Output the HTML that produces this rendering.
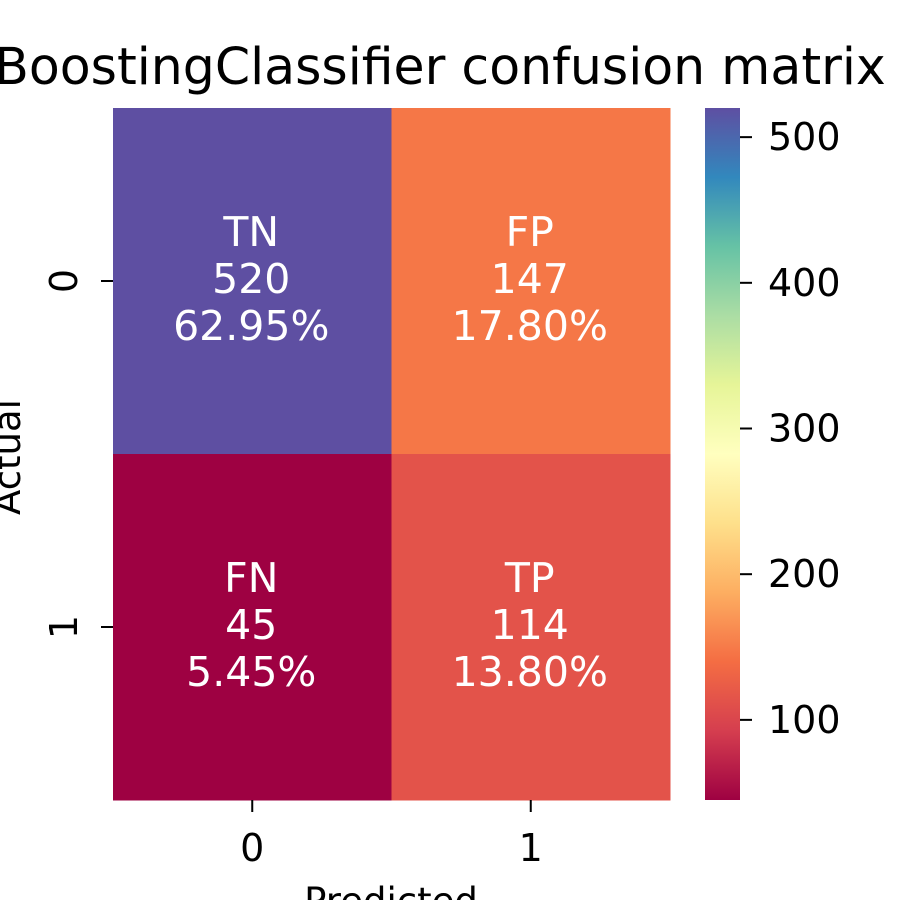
<!DOCTYPE html>
<html><head><meta charset="utf-8"><style>
body{margin:0;background:#fff;width:900px;height:900px;overflow:hidden}
svg text{font-family:"DejaVu Sans","Liberation Sans",sans-serif}
</style></head><body>
<svg id="chart" width="900" height="900">
<text x="440" y="84" font-size="50.5" text-anchor="middle">BoostingClassifier confusion matrix</text>
<g id="cells"></g>
<g id="axes"></g>
<defs><linearGradient id="spec" x1="0" y1="1" x2="0" y2="0"></linearGradient></defs>
<rect x="705" y="108" width="35" height="692" fill="url(#spec)"/>
<g id="cbticks"></g>
<text transform="translate(20,457) rotate(-90)" font-size="37" text-anchor="middle">Actual</text>
<text x="391" y="914" font-size="37" text-anchor="middle">Predicted</text>
</svg>
<script>
const rowLabels=["0","1"];
const colLabels=["0","1"];
const counts=[[520,147],[45,114]];
const names=[["TN","FP"],["FN","TP"]];
const percents=["62.95%","17.80%","5.45%","13.80%"];
const cbTicks=[100,200,300,400,500];
const stops=["#9e0142","#d53e4f","#f46d43","#fdae61","#fee08b","#ffffbf","#e6f598","#abdda4","#66c2a5","#3288bd","#5e4fa2"];
const NS="http://www.w3.org/2000/svg";
const vmin=45,vmax=520;
const X0=113,X1=670,Y0=108,Y1=800;
const cw=(X1-X0)/colLabels.length,ch=(Y1-Y0)/rowLabels.length;
function hex(h){return [1,3,5].map(i=>parseInt(h.substr(i,2),16));}
function cmap(v){let t=(v-vmin)/(vmax-vmin);t=Math.max(0,Math.min(1,t))*(stops.length-1);
 const i=Math.min(Math.floor(t),stops.length-2),f=t-i;const a=hex(stops[i]),b=hex(stops[i+1]);
 return "rgb("+a.map((c,k)=>Math.round(c+(b[k]-c)*f)).join(",")+")";}
function yCb(v){return Y1-(v-vmin)/(vmax-vmin)*(Y1-Y0);}
const grad=document.getElementById("spec");
stops.forEach((s,i)=>{const st=document.createElementNS(NS,"stop");st.setAttribute("offset",i/(stops.length-1));st.setAttribute("stop-color",s);grad.appendChild(st);});
const cells=document.getElementById("cells"),axes=document.getElementById("axes"),cb=document.getElementById("cbticks");
function mk(tag,attrs,parent){const e=document.createElementNS(NS,tag);for(const k in attrs)e.setAttribute(k,attrs[k]);parent.appendChild(e);return e;}
counts.forEach((row,r)=>row.forEach((v,c)=>{
 const rect=mk("rect",{x:X0+c*cw,y:Y0+r*ch,width:cw+0.5,height:ch+0.5,fill:cmap(v)},cells);
 
 
 const cx=X0+(c+0.5)*cw-1,cy=Y0+(r+0.5)*ch;
 const lines=[names[r][c],String(v),percents[r*2+c]];
 lines.forEach((s,k)=>{const t=mk("text",{x:cx,y:cy-35+k*47,"font-size":"41",fill:"#fff","text-anchor":"middle"},cells);t.textContent=s;
 
 });
}));
colLabels.forEach((l,i)=>{const x=X0+(i+0.5)*cw;
 mk("line",{x1:x,x2:x,y1:Y1,y2:Y1+12,stroke:"#000","stroke-width":2},axes);
 const t=mk("text",{x:x,y:Y1+61,"font-size":"38","text-anchor":"middle"},axes);t.textContent=l;
 
 });
rowLabels.forEach((l,i)=>{const y=Y0+(i+0.5)*ch;
 mk("line",{x1:X0-12,x2:X0,y1:y,y2:y,stroke:"#000","stroke-width":2},axes);
 const t=mk("text",{transform:"translate(77,"+y+") rotate(-90)","font-size":"38","text-anchor":"middle"},axes);t.textContent=l;
 
 });
cbTicks.forEach(v=>{const y=yCb(v);
 mk("line",{x1:740,x2:752,y1:y,y2:y,stroke:"#000","stroke-width":2},cb);
 const t=mk("text",{x:768,y:y+13,"font-size":"38"},cb);t.textContent=String(v);
 
 });
</script>
</body></html>
